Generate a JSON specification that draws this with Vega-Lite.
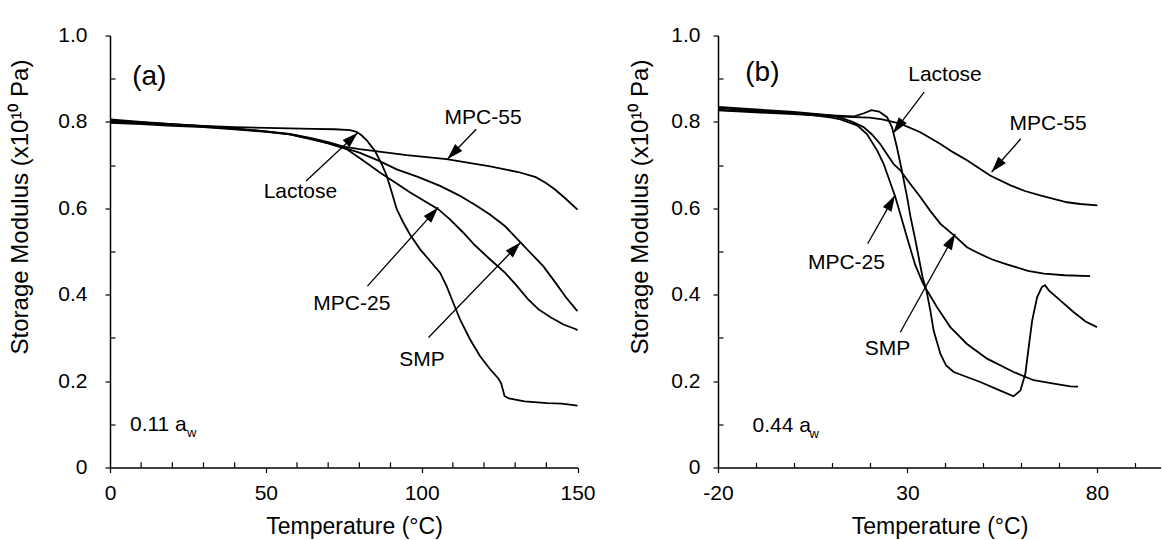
{
  "$schema": "https://vega.github.io/schema/vega-lite/v6.json",
  "padding": {"left": 8, "top": 24.5, "right": 0, "bottom": 0},
  "spacing": 32,
  "config": {
    "font": "Liberation Sans",
    "view": {"stroke": null},
    "axis": {"grid": false, "domainColor": "#000", "tickColor": "#000", "labelColor": "#000", "titleColor": "#000", "titleFontWeight": "normal", "labelFontSize": 21, "titleFontSize": 23, "labelFont": "Liberation Sans", "titleFont": "Liberation Sans", "domainWidth": 1.5, "tickWidth": 1.2, "labelFlush": false, "labelOverlap": false}
  },
  "datasets": {
    "ca": [
      {"s": "Lactose", "t": 0, "g": 0.803}, {"s": "Lactose", "t": 10, "g": 0.799}, {"s": "Lactose", "t": 20, "g": 0.795}, {"s": "Lactose", "t": 30, "g": 0.791}, {"s": "Lactose", "t": 40, "g": 0.788}, {"s": "Lactose", "t": 50, "g": 0.786}, {"s": "Lactose", "t": 57.7, "g": 0.785}, {"s": "Lactose", "t": 65, "g": 0.784}, {"s": "Lactose", "t": 72, "g": 0.783}, {"s": "Lactose", "t": 77, "g": 0.781}, {"s": "Lactose", "t": 79.1, "g": 0.777}, {"s": "Lactose", "t": 80.7, "g": 0.769}, {"s": "Lactose", "t": 82.3, "g": 0.758}, {"s": "Lactose", "t": 85, "g": 0.733}, {"s": "Lactose", "t": 87.2, "g": 0.702}, {"s": "Lactose", "t": 88.8, "g": 0.675}, {"s": "Lactose", "t": 90.4, "g": 0.637}, {"s": "Lactose", "t": 92, "g": 0.598}, {"s": "Lactose", "t": 94.1, "g": 0.567}, {"s": "Lactose", "t": 96.2, "g": 0.54}, {"s": "Lactose", "t": 99.5, "g": 0.505}, {"s": "Lactose", "t": 102.7, "g": 0.478}, {"s": "Lactose", "t": 105.9, "g": 0.451}, {"s": "Lactose", "t": 108, "g": 0.42}, {"s": "Lactose", "t": 110.1, "g": 0.382}, {"s": "Lactose", "t": 112.3, "g": 0.343}, {"s": "Lactose", "t": 115.5, "g": 0.297}, {"s": "Lactose", "t": 118.7, "g": 0.258}, {"s": "Lactose", "t": 121.9, "g": 0.228}, {"s": "Lactose", "t": 124.6, "g": 0.206}, {"s": "Lactose", "t": 125.5, "g": 0.195}, {"s": "Lactose", "t": 126.6, "g": 0.165}, {"s": "Lactose", "t": 128, "g": 0.16}, {"s": "Lactose", "t": 133, "g": 0.153}, {"s": "Lactose", "t": 140.3, "g": 0.149}, {"s": "Lactose", "t": 145, "g": 0.148}, {"s": "Lactose", "t": 150, "g": 0.143},
      {"s": "MPC-55", "t": 0, "g": 0.806}, {"s": "MPC-55", "t": 10, "g": 0.8}, {"s": "MPC-55", "t": 20, "g": 0.795}, {"s": "MPC-55", "t": 30, "g": 0.79}, {"s": "MPC-55", "t": 40, "g": 0.785}, {"s": "MPC-55", "t": 50, "g": 0.778}, {"s": "MPC-55", "t": 57.7, "g": 0.772}, {"s": "MPC-55", "t": 65, "g": 0.762}, {"s": "MPC-55", "t": 70, "g": 0.753}, {"s": "MPC-55", "t": 75, "g": 0.743}, {"s": "MPC-55", "t": 80, "g": 0.737}, {"s": "MPC-55", "t": 84.5, "g": 0.733}, {"s": "MPC-55", "t": 95.2, "g": 0.723}, {"s": "MPC-55", "t": 108, "g": 0.714}, {"s": "MPC-55", "t": 117.6, "g": 0.702}, {"s": "MPC-55", "t": 122, "g": 0.697}, {"s": "MPC-55", "t": 126.7, "g": 0.69}, {"s": "MPC-55", "t": 131, "g": 0.684}, {"s": "MPC-55", "t": 136.6, "g": 0.672}, {"s": "MPC-55", "t": 140, "g": 0.658}, {"s": "MPC-55", "t": 142.7, "g": 0.644}, {"s": "MPC-55", "t": 146.4, "g": 0.621}, {"s": "MPC-55", "t": 150, "g": 0.597},
      {"s": "SMP", "t": 0, "g": 0.8}, {"s": "SMP", "t": 10, "g": 0.797}, {"s": "SMP", "t": 20, "g": 0.793}, {"s": "SMP", "t": 30, "g": 0.789}, {"s": "SMP", "t": 40, "g": 0.784}, {"s": "SMP", "t": 50, "g": 0.778}, {"s": "SMP", "t": 57.7, "g": 0.771}, {"s": "SMP", "t": 65, "g": 0.76}, {"s": "SMP", "t": 70, "g": 0.751}, {"s": "SMP", "t": 75.9, "g": 0.738}, {"s": "SMP", "t": 80, "g": 0.729}, {"s": "SMP", "t": 86, "g": 0.711}, {"s": "SMP", "t": 92, "g": 0.69}, {"s": "SMP", "t": 99, "g": 0.672}, {"s": "SMP", "t": 105.9, "g": 0.652}, {"s": "SMP", "t": 112, "g": 0.63}, {"s": "SMP", "t": 117.6, "g": 0.606}, {"s": "SMP", "t": 122, "g": 0.585}, {"s": "SMP", "t": 126.7, "g": 0.559}, {"s": "SMP", "t": 131.7, "g": 0.521}, {"s": "SMP", "t": 134.5, "g": 0.5}, {"s": "SMP", "t": 139, "g": 0.466}, {"s": "SMP", "t": 142.5, "g": 0.432}, {"s": "SMP", "t": 146.4, "g": 0.393}, {"s": "SMP", "t": 149.5, "g": 0.366}, {"s": "SMP", "t": 150, "g": 0.362},
      {"s": "MPC-25", "t": 0, "g": 0.798}, {"s": "MPC-25", "t": 10, "g": 0.795}, {"s": "MPC-25", "t": 20, "g": 0.791}, {"s": "MPC-25", "t": 30, "g": 0.788}, {"s": "MPC-25", "t": 40, "g": 0.783}, {"s": "MPC-25", "t": 50, "g": 0.777}, {"s": "MPC-25", "t": 57.7, "g": 0.771}, {"s": "MPC-25", "t": 65, "g": 0.759}, {"s": "MPC-25", "t": 70, "g": 0.75}, {"s": "MPC-25", "t": 75.9, "g": 0.737}, {"s": "MPC-25", "t": 81, "g": 0.712}, {"s": "MPC-25", "t": 86.6, "g": 0.683}, {"s": "MPC-25", "t": 91, "g": 0.662}, {"s": "MPC-25", "t": 96.2, "g": 0.637}, {"s": "MPC-25", "t": 105.3, "g": 0.598}, {"s": "MPC-25", "t": 109, "g": 0.575}, {"s": "MPC-25", "t": 113.3, "g": 0.544}, {"s": "MPC-25", "t": 117, "g": 0.515}, {"s": "MPC-25", "t": 121.9, "g": 0.482}, {"s": "MPC-25", "t": 126.7, "g": 0.451}, {"s": "MPC-25", "t": 130, "g": 0.425}, {"s": "MPC-25", "t": 134.1, "g": 0.39}, {"s": "MPC-25", "t": 137.5, "g": 0.366}, {"s": "MPC-25", "t": 141.5, "g": 0.347}, {"s": "MPC-25", "t": 145.5, "g": 0.331}, {"s": "MPC-25", "t": 149.5, "g": 0.32}, {"s": "MPC-25", "t": 150, "g": 0.318}
    ],
    "cb": [
      {"s": "Lactose", "t": -20, "g": 0.828}, {"s": "Lactose", "t": -10, "g": 0.824}, {"s": "Lactose", "t": 0, "g": 0.82}, {"s": "Lactose", "t": 10, "g": 0.815}, {"s": "Lactose", "t": 16, "g": 0.813}, {"s": "Lactose", "t": 18.5, "g": 0.82}, {"s": "Lactose", "t": 20.5, "g": 0.827}, {"s": "Lactose", "t": 22.5, "g": 0.824}, {"s": "Lactose", "t": 24.6, "g": 0.811}, {"s": "Lactose", "t": 25.9, "g": 0.788}, {"s": "Lactose", "t": 27.2, "g": 0.742}, {"s": "Lactose", "t": 28.5, "g": 0.688}, {"s": "Lactose", "t": 29.9, "g": 0.626}, {"s": "Lactose", "t": 30.8, "g": 0.58}, {"s": "Lactose", "t": 32, "g": 0.53}, {"s": "Lactose", "t": 33, "g": 0.485}, {"s": "Lactose", "t": 34, "g": 0.44}, {"s": "Lactose", "t": 35, "g": 0.41}, {"s": "Lactose", "t": 36, "g": 0.365}, {"s": "Lactose", "t": 36.9, "g": 0.317}, {"s": "Lactose", "t": 38.7, "g": 0.263}, {"s": "Lactose", "t": 40.2, "g": 0.236}, {"s": "Lactose", "t": 42.2, "g": 0.221}, {"s": "Lactose", "t": 45.5, "g": 0.21}, {"s": "Lactose", "t": 49.2, "g": 0.198}, {"s": "Lactose", "t": 54.5, "g": 0.178}, {"s": "Lactose", "t": 58, "g": 0.165}, {"s": "Lactose", "t": 59.8, "g": 0.178}, {"s": "Lactose", "t": 61.1, "g": 0.217}, {"s": "Lactose", "t": 62, "g": 0.279}, {"s": "Lactose", "t": 62.9, "g": 0.34}, {"s": "Lactose", "t": 64.2, "g": 0.394}, {"s": "Lactose", "t": 65.5, "g": 0.418}, {"s": "Lactose", "t": 66.3, "g": 0.422}, {"s": "Lactose", "t": 67.3, "g": 0.41}, {"s": "Lactose", "t": 70.3, "g": 0.387}, {"s": "Lactose", "t": 73.8, "g": 0.36}, {"s": "Lactose", "t": 77, "g": 0.338}, {"s": "Lactose", "t": 80, "g": 0.325},
      {"s": "MPC-25", "t": -20, "g": 0.832}, {"s": "MPC-25", "t": -10, "g": 0.826}, {"s": "MPC-25", "t": 0, "g": 0.82}, {"s": "MPC-25", "t": 5, "g": 0.816}, {"s": "MPC-25", "t": 10, "g": 0.81}, {"s": "MPC-25", "t": 12.3, "g": 0.806}, {"s": "MPC-25", "t": 16.7, "g": 0.792}, {"s": "MPC-25", "t": 19.3, "g": 0.772}, {"s": "MPC-25", "t": 22, "g": 0.734}, {"s": "MPC-25", "t": 23.7, "g": 0.703}, {"s": "MPC-25", "t": 26.8, "g": 0.626}, {"s": "MPC-25", "t": 28.1, "g": 0.587}, {"s": "MPC-25", "t": 30.1, "g": 0.526}, {"s": "MPC-25", "t": 32, "g": 0.47}, {"s": "MPC-25", "t": 33.9, "g": 0.43}, {"s": "MPC-25", "t": 35, "g": 0.412}, {"s": "MPC-25", "t": 36.5, "g": 0.39}, {"s": "MPC-25", "t": 37.8, "g": 0.371}, {"s": "MPC-25", "t": 41.3, "g": 0.325}, {"s": "MPC-25", "t": 45.7, "g": 0.286}, {"s": "MPC-25", "t": 51, "g": 0.252}, {"s": "MPC-25", "t": 58, "g": 0.221}, {"s": "MPC-25", "t": 63.3, "g": 0.202}, {"s": "MPC-25", "t": 68.6, "g": 0.194}, {"s": "MPC-25", "t": 73, "g": 0.188}, {"s": "MPC-25", "t": 75, "g": 0.187},
      {"s": "SMP", "t": -20, "g": 0.835}, {"s": "SMP", "t": -10, "g": 0.829}, {"s": "SMP", "t": 0, "g": 0.823}, {"s": "SMP", "t": 10, "g": 0.815}, {"s": "SMP", "t": 12.3, "g": 0.81}, {"s": "SMP", "t": 15.5, "g": 0.8}, {"s": "SMP", "t": 18.4, "g": 0.788}, {"s": "SMP", "t": 20.5, "g": 0.772}, {"s": "SMP", "t": 22.8, "g": 0.749}, {"s": "SMP", "t": 26.3, "g": 0.703}, {"s": "SMP", "t": 28.1, "g": 0.688}, {"s": "SMP", "t": 30.7, "g": 0.657}, {"s": "SMP", "t": 33.4, "g": 0.626}, {"s": "SMP", "t": 36, "g": 0.594}, {"s": "SMP", "t": 38.7, "g": 0.564}, {"s": "SMP", "t": 42.6, "g": 0.535}, {"s": "SMP", "t": 45.7, "g": 0.51}, {"s": "SMP", "t": 48.5, "g": 0.497}, {"s": "SMP", "t": 52.2, "g": 0.482}, {"s": "SMP", "t": 56, "g": 0.471}, {"s": "SMP", "t": 61.8, "g": 0.455}, {"s": "SMP", "t": 66, "g": 0.449}, {"s": "SMP", "t": 71.5, "g": 0.445}, {"s": "SMP", "t": 78.2, "g": 0.443},
      {"s": "MPC-55", "t": -20, "g": 0.827}, {"s": "MPC-55", "t": -10, "g": 0.822}, {"s": "MPC-55", "t": 0, "g": 0.818}, {"s": "MPC-55", "t": 10, "g": 0.813}, {"s": "MPC-55", "t": 16, "g": 0.811}, {"s": "MPC-55", "t": 20, "g": 0.81}, {"s": "MPC-55", "t": 23.3, "g": 0.806}, {"s": "MPC-55", "t": 28.1, "g": 0.796}, {"s": "MPC-55", "t": 33.4, "g": 0.776}, {"s": "MPC-55", "t": 38.7, "g": 0.749}, {"s": "MPC-55", "t": 42, "g": 0.73}, {"s": "MPC-55", "t": 45.7, "g": 0.711}, {"s": "MPC-55", "t": 51.8, "g": 0.676}, {"s": "MPC-55", "t": 57.2, "g": 0.653}, {"s": "MPC-55", "t": 61, "g": 0.64}, {"s": "MPC-55", "t": 65, "g": 0.63}, {"s": "MPC-55", "t": 72.1, "g": 0.614}, {"s": "MPC-55", "t": 75.6, "g": 0.61}, {"s": "MPC-55", "t": 80.1, "g": 0.607}
    ],
    "aa": [
      {"s": "MPC-55", "lx": 119.7, "ly": 0.808, "t1": 117.5, "g1": 0.783, "t2": 108.3, "g2": 0.714},
      {"s": "Lactose", "lx": 61.1, "ly": 0.638, "t1": 62.9, "g1": 0.663, "t2": 79.5, "g2": 0.775},
      {"s": "MPC-25", "lx": 77.6, "ly": 0.378, "t1": 82.6, "g1": 0.42, "t2": 105.3, "g2": 0.602},
      {"s": "SMP", "lx": 100.1, "ly": 0.248, "t1": 102.2, "g1": 0.301, "t2": 131.7, "g2": 0.521}
    ],
    "ab": [
      {"s": "Lactose", "lx": 39.9, "ly": 0.908, "t1": 34.4, "g1": 0.869, "t2": 26.2, "g2": 0.774},
      {"s": "MPC-55", "lx": 67.1, "ly": 0.796, "t1": 59.9, "g1": 0.761, "t2": 52.2, "g2": 0.684},
      {"s": "MPC-25", "lx": 13.9, "ly": 0.474, "t1": 19.5, "g1": 0.518, "t2": 26.7, "g2": 0.63},
      {"s": "SMP", "lx": 24.7, "ly": 0.275, "t1": 28.1, "g1": 0.313, "t2": 42.6, "g2": 0.541}
    ],
    "ma": [{"t": 10}, {"t": 20}, {"t": 30}, {"t": 40}, {"t": 60}, {"t": 70}, {"t": 80}, {"t": 90}, {"t": 110}, {"t": 120}, {"t": 130}, {"t": 140}],
    "pa": [{"panel": "(a)", "px": 7.1, "py": 0.905, "aw": "0.11 a", "ax": 6.4, "ay": 0.084}],
    "pb": [{"panel": "(b)", "px": -12.8, "py": 0.913, "aw": "0.44 a", "ax": -10.9, "ay": 0.082}]
  },
  "hconcat": [
    {
      "width": 467.5,
      "height": 432,
      "layer": [
        {
          "data": {"name": "ca"},
          "mark": {"type": "line", "color": "#000", "strokeWidth": 1.8},
          "encoding": {
            "x": {"field": "t", "type": "quantitative", "title": "Temperature (°C)", "scale": {"domain": [0, 150], "nice": false, "zero": false},
              "axis": {"values": [0, 50, 100, 150], "format": "d", "labelOverlap": false, "labelFlush": false, "tickSize": 5, "titleX": 244, "labelPadding": 10, "titlePadding": 12, "zindex": 1}},
            "y": {"field": "g", "type": "quantitative", "title": "Storage Modulus (x10¹⁰ Pa)", "scale": {"domain": [0, 1], "nice": false, "zero": false},
              "axis": {"values": [0, 0.1, 0.2, 0.3, 0.4, 0.5, 0.6, 0.7, 0.8, 0.9, 1], "labelExpr": "round(datum.value*10) % 2 === 0 ? (datum.value === 0 ? '0' : format(datum.value, '.1f')) : ''", "labelOverlap": false, "labelFlush": false, "tickSize": {"condition": {"test": "round(datum.value*10) % 2 === 0", "value": 5}, "value": -5}, "titleY": 171, "titleFontSize": 24, "labelPadding": 18, "titlePadding": 25, "zindex": 1}},
            "detail": {"field": "s"}
          }
        },
        {"mark": {"type": "rule", "color": "#aaaaaa", "strokeWidth": 1.2}, "encoding": {"y": {"datum": 1, "type": "quantitative", "title": "Storage Modulus (x10¹⁰ Pa)"}}},
        {"mark": {"type": "rule", "color": "#aaaaaa", "strokeWidth": 1.2}, "encoding": {"x": {"datum": 150, "type": "quantitative", "title": "Temperature (°C)"}}},
        {"data": {"name": "ma"}, "mark": {"type": "rule", "color": "#000", "strokeWidth": 1.2}, "encoding": {"x": {"field": "t", "type": "quantitative", "title": "Temperature (°C)"}, "y": {"datum": 0, "type": "quantitative", "title": "Storage Modulus (x10¹⁰ Pa)"}, "y2": {"datum": 0.012}}},
        {"data": {"name": "aa"}, "mark": {"type": "rule", "color": "#000", "strokeWidth": 1.3}, "encoding": {"x": {"field": "t1", "type": "quantitative", "title": "Temperature (°C)"}, "y": {"field": "g1", "type": "quantitative", "title": "Storage Modulus (x10¹⁰ Pa)"}, "x2": {"field": "t2"}, "y2": {"field": "g2"}}},
        {"data": {"name": "aa"}, "transform": [{"filter": "datum.s === 'MPC-55'"}], "mark": {"type": "point", "shape": "M0,0L-0.5,1.6L0.5,1.6Z", "filled": true, "color": "#000", "opacity": 1, "size": 400, "angle": 224}, "encoding": {"x": {"field": "t2", "type": "quantitative", "title": "Temperature (°C)"}, "y": {"field": "g2", "type": "quantitative", "title": "Storage Modulus (x10¹⁰ Pa)"}}},
        {"data": {"name": "aa"}, "transform": [{"filter": "datum.s === 'Lactose'"}], "mark": {"type": "point", "shape": "M0,0L-0.5,1.6L0.5,1.6Z", "filled": true, "color": "#000", "opacity": 1, "size": 400, "angle": 47}, "encoding": {"x": {"field": "t2", "type": "quantitative", "title": "Temperature (°C)"}, "y": {"field": "g2", "type": "quantitative", "title": "Storage Modulus (x10¹⁰ Pa)"}}},
        {"data": {"name": "aa"}, "transform": [{"filter": "datum.s === 'MPC-25'"}], "mark": {"type": "point", "shape": "M0,0L-0.5,1.6L0.5,1.6Z", "filled": true, "color": "#000", "opacity": 1, "size": 400, "angle": 42}, "encoding": {"x": {"field": "t2", "type": "quantitative", "title": "Temperature (°C)"}, "y": {"field": "g2", "type": "quantitative", "title": "Storage Modulus (x10¹⁰ Pa)"}}},
        {"data": {"name": "aa"}, "transform": [{"filter": "datum.s === 'SMP'"}], "mark": {"type": "point", "shape": "M0,0L-0.5,1.6L0.5,1.6Z", "filled": true, "color": "#000", "opacity": 1, "size": 400, "angle": 44}, "encoding": {"x": {"field": "t2", "type": "quantitative", "title": "Temperature (°C)"}, "y": {"field": "g2", "type": "quantitative", "title": "Storage Modulus (x10¹⁰ Pa)"}}},
        {"data": {"name": "aa"}, "mark": {"type": "text", "fontSize": 21, "align": "center", "baseline": "middle", "color": "#000"}, "encoding": {"x": {"field": "lx", "type": "quantitative", "title": "Temperature (°C)"}, "y": {"field": "ly", "type": "quantitative", "title": "Storage Modulus (x10¹⁰ Pa)"}, "text": {"field": "s"}}},
        {"data": {"name": "pa"}, "mark": {"type": "text", "fontSize": 28, "align": "left", "baseline": "middle", "color": "#000"}, "encoding": {"x": {"field": "px", "type": "quantitative", "title": "Temperature (°C)"}, "y": {"field": "py", "type": "quantitative", "title": "Storage Modulus (x10¹⁰ Pa)"}, "text": {"field": "panel"}}},
        {"data": {"name": "pa"}, "mark": {"type": "text", "fontSize": 21, "align": "left", "baseline": "alphabetic", "color": "#000"}, "encoding": {"x": {"field": "ax", "type": "quantitative", "title": "Temperature (°C)"}, "y": {"field": "ay", "type": "quantitative", "title": "Storage Modulus (x10¹⁰ Pa)"}, "text": {"field": "aw"}}},
        {"data": {"name": "pa"}, "mark": {"type": "text", "fontSize": 13, "align": "left", "baseline": "alphabetic", "color": "#000", "dx": 57, "dy": 6, "text": "w"}, "encoding": {"x": {"field": "ax", "type": "quantitative", "title": "Temperature (°C)"}, "y": {"field": "ay", "type": "quantitative", "title": "Storage Modulus (x10¹⁰ Pa)"}}}
      ]
    },
    {
      "width": 443,
      "height": 432,
      "layer": [
        {
          "data": {"name": "cb"},
          "mark": {"type": "line", "color": "#000", "strokeWidth": 1.8},
          "encoding": {
            "x": {"field": "t", "type": "quantitative", "title": "Temperature (°C)", "scale": {"domain": [-20, 96.9], "nice": false, "zero": false},
              "axis": {"values": [-20, -10, 0, 10, 20, 30, 40, 50, 60, 70, 80, 90], "labelExpr": "(datum.value + 20) % 50 === 0 ? '' + datum.value : ''", "labelOverlap": false, "labelFlush": false, "tickSize": {"condition": {"test": "(datum.value + 20) % 50 === 0", "value": 5}, "value": -5}, "labelPadding": 10, "titlePadding": 12, "zindex": 1}},
            "y": {"field": "g", "type": "quantitative", "title": "Storage Modulus (x10¹⁰ Pa)", "scale": {"domain": [0, 1], "nice": false, "zero": false},
              "axis": {"values": [0, 0.1, 0.2, 0.3, 0.4, 0.5, 0.6, 0.7, 0.8, 0.9, 1], "labelExpr": "round(datum.value*10) % 2 === 0 ? (datum.value === 0 ? '0' : format(datum.value, '.1f')) : ''", "labelOverlap": false, "labelFlush": false, "tickSize": {"condition": {"test": "round(datum.value*10) % 2 === 0", "value": 5}, "value": -5}, "titleY": 171, "titleFontSize": 24, "labelPadding": 13, "titlePadding": 18, "zindex": 1}},
            "detail": {"field": "s"}
          }
        },
        {"mark": {"type": "rule", "color": "#aaaaaa", "strokeWidth": 1.2}, "encoding": {"y": {"datum": 1, "type": "quantitative", "title": "Storage Modulus (x10¹⁰ Pa)"}}},
        {"data": {"name": "ab"}, "mark": {"type": "rule", "color": "#000", "strokeWidth": 1.3}, "encoding": {"x": {"field": "t1", "type": "quantitative", "title": "Temperature (°C)"}, "y": {"field": "g1", "type": "quantitative", "title": "Storage Modulus (x10¹⁰ Pa)"}, "x2": {"field": "t2"}, "y2": {"field": "g2"}}},
        {"data": {"name": "ab"}, "transform": [{"filter": "datum.s === 'Lactose'"}], "mark": {"type": "point", "shape": "M0,0L-0.5,1.6L0.5,1.6Z", "filled": true, "color": "#000", "opacity": 1, "size": 400, "angle": 217}, "encoding": {"x": {"field": "t2", "type": "quantitative", "title": "Temperature (°C)"}, "y": {"field": "g2", "type": "quantitative", "title": "Storage Modulus (x10¹⁰ Pa)"}}},
        {"data": {"name": "ab"}, "transform": [{"filter": "datum.s === 'MPC-55'"}], "mark": {"type": "point", "shape": "M0,0L-0.5,1.6L0.5,1.6Z", "filled": true, "color": "#000", "opacity": 1, "size": 400, "angle": 221}, "encoding": {"x": {"field": "t2", "type": "quantitative", "title": "Temperature (°C)"}, "y": {"field": "g2", "type": "quantitative", "title": "Storage Modulus (x10¹⁰ Pa)"}}},
        {"data": {"name": "ab"}, "transform": [{"filter": "datum.s === 'MPC-25'"}], "mark": {"type": "point", "shape": "M0,0L-0.5,1.6L0.5,1.6Z", "filled": true, "color": "#000", "opacity": 1, "size": 400, "angle": 29}, "encoding": {"x": {"field": "t2", "type": "quantitative", "title": "Temperature (°C)"}, "y": {"field": "g2", "type": "quantitative", "title": "Storage Modulus (x10¹⁰ Pa)"}}},
        {"data": {"name": "ab"}, "transform": [{"filter": "datum.s === 'SMP'"}], "mark": {"type": "point", "shape": "M0,0L-0.5,1.6L0.5,1.6Z", "filled": true, "color": "#000", "opacity": 1, "size": 400, "angle": 29}, "encoding": {"x": {"field": "t2", "type": "quantitative", "title": "Temperature (°C)"}, "y": {"field": "g2", "type": "quantitative", "title": "Storage Modulus (x10¹⁰ Pa)"}}},
        {"data": {"name": "ab"}, "mark": {"type": "text", "fontSize": 21, "align": "center", "baseline": "middle", "color": "#000"}, "encoding": {"x": {"field": "lx", "type": "quantitative", "title": "Temperature (°C)"}, "y": {"field": "ly", "type": "quantitative", "title": "Storage Modulus (x10¹⁰ Pa)"}, "text": {"field": "s"}}},
        {"data": {"name": "pb"}, "mark": {"type": "text", "fontSize": 28, "align": "left", "baseline": "middle", "color": "#000"}, "encoding": {"x": {"field": "px", "type": "quantitative", "title": "Temperature (°C)"}, "y": {"field": "py", "type": "quantitative", "title": "Storage Modulus (x10¹⁰ Pa)"}, "text": {"field": "panel"}}},
        {"data": {"name": "pb"}, "mark": {"type": "text", "fontSize": 21, "align": "left", "baseline": "alphabetic", "color": "#000"}, "encoding": {"x": {"field": "ax", "type": "quantitative", "title": "Temperature (°C)"}, "y": {"field": "ay", "type": "quantitative", "title": "Storage Modulus (x10¹⁰ Pa)"}, "text": {"field": "aw"}}},
        {"data": {"name": "pb"}, "mark": {"type": "text", "fontSize": 13, "align": "left", "baseline": "alphabetic", "color": "#000", "dx": 57, "dy": 6, "text": "w"}, "encoding": {"x": {"field": "ax", "type": "quantitative", "title": "Temperature (°C)"}, "y": {"field": "ay", "type": "quantitative", "title": "Storage Modulus (x10¹⁰ Pa)"}}}
      ]
    }
  ]
}
